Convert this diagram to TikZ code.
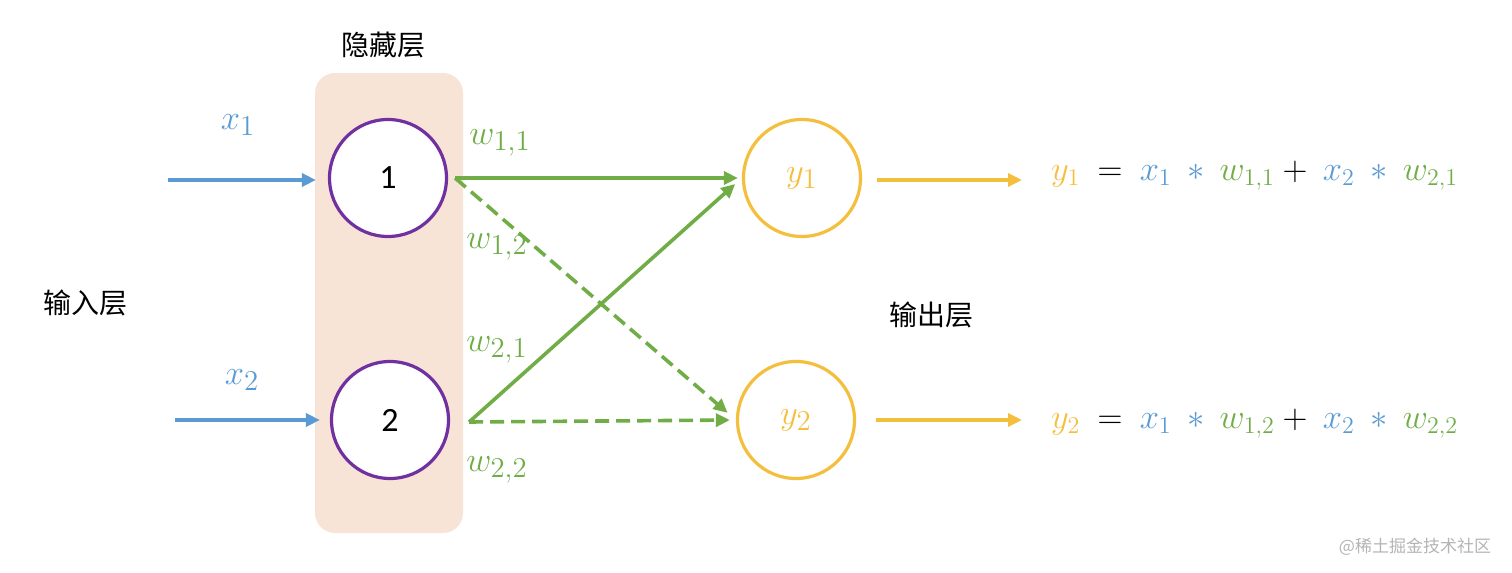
\documentclass[tikz,border=0pt]{standalone}
\usepackage{fontspec}
\setmainfont{Carlito}
\newfontfamily\cjk{Noto Sans CJK SC}
\usetikzlibrary{arrows.meta}
\definecolor{cblue}{HTML}{5B9BD5}
\definecolor{cgreen}{HTML}{70AD47}
\definecolor{cyel}{HTML}{F5BF3E}
\definecolor{cpurp}{HTML}{7030A0}
\definecolor{cpeach}{HTML}{F8E4D7}
\definecolor{cgrey}{HTML}{B4B4B4}
\tikzset{
  hid/.style={circle,draw=cpurp,line width=1.6pt,fill=white,inner sep=0pt,minimum size=58.5pt,font=\fontsize{17}{19}\selectfont},
  outn/.style={circle,draw=cyel,line width=1.6pt,fill=white,inner sep=0pt,minimum size=58.5pt,font=\fontsize{19}{21}\selectfont},
  conn/.style={line width=1.8pt,-{Triangle[length=7pt,width=6.5pt]}},
  dsh/.style={dash pattern=on 7pt off 3.5pt},
  cjklab/.style={font=\cjk\fontsize{14}{16}\selectfont},
  mlab/.style={font=\fontsize{19}{21}\selectfont},
  eq/.style={font=\fontsize{18.5}{20}\selectfont,anchor=west}
}
\begin{document}
\begin{tikzpicture}[x=0.5pt,y=-0.5pt]
\useasboundingbox (0,0) rectangle (1512,573);
\fill[cpeach,rounded corners=10pt] (315,73) rectangle (463,533);
\node[cjklab] (lhid) at (383,45) {隐藏层};
\node[cjklab] (lin) at (85,303) {输入层};
\node[cjklab] (lout) at (931,315) {输出层};
\node[hid] (h1) at (388,178) {1};
\node[hid] (h2) at (390,420) {2};
\node[outn] (o1) at (802,178) {$\color{cyel}y_1$};
\node[outn] (o2) at (796,420) {$\color{cyel}y_2$};
\coordinate (in1) at (168,180);
\coordinate (in2) at (175,420);
\draw[conn,cblue,shorten >=6pt] (in1) -- (in1 -| h1.west);
\draw[conn,cblue,shorten >=5pt] (in2) -- (in2 -| h2.west);
\node[mlab] (x1) at (238,125) {$\color{cblue}x_1$};
\node[mlab] (x2) at (242,380) {$\color{cblue}x_2$};
\coordinate (s1) at ([xshift=3.5pt]h1.east);
\coordinate (s2) at ([xshift=9.5pt,yshift=-1pt]h2.east);
\draw[conn,cgreen,shorten >=2pt] (s1) -- (o1.west);
\draw[conn,cgreen,dsh,shorten >=5.5pt] (s1) -- (o2.west);
\draw[conn,cgreen,shorten >=4.5pt] (s2) -- (o1.west);
\draw[conn,cgreen,dsh,shorten >=3pt] (s2) -- (o2.west);
\node[mlab] (w11) at (500,143) {$\color{cgreen}w_{1,1}$};
\node[mlab] (w12) at (497,247) {$\color{cgreen}w_{1,2}$};
\node[mlab] (w21) at (497,350) {$\color{cgreen}w_{2,1}$};
\node[mlab] (w22) at (497,470) {$\color{cgreen}w_{2,2}$};
\coordinate (e1) at (1022,180);
\coordinate (e2) at (1022,420);
\draw[conn,cyel,shorten <=7.5pt] (o1.east |- e1) -- (e1);
\draw[conn,cyel,shorten <=10pt] (o2.east |- e2) -- (e2);
\node[eq] (eq1) at (1044,176) {$\color{cyel}y_1\color{black}\:=\:\color{cblue}x_1\:*\:\color{cgreen}w_{1,1}\color{black}+\:\color{cblue}x_2\:*\:\color{cgreen}w_{2,1}$};
\node[eq] (eq2) at (1044,424) {$\color{cyel}y_2\color{black}\:=\:\color{cblue}x_1\:*\:\color{cgreen}w_{1,2}\color{black}+\:\color{cblue}x_2\:*\:\color{cgreen}w_{2,2}$};
\node[font=\cjk\fontsize{8.5}{10}\selectfont,text=cgrey] (wm) at (1415,547) {@稀土掘金技术社区};
\end{tikzpicture}
\end{document}
